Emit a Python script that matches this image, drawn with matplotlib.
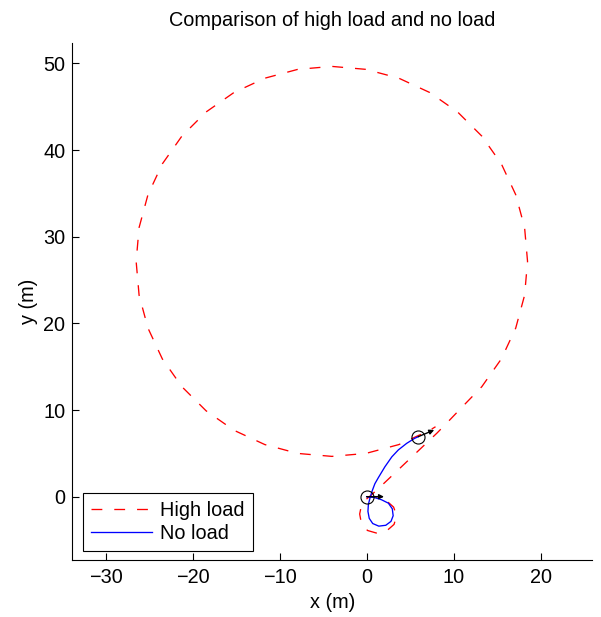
import numpy as np
import matplotlib
matplotlib.use("Agg")
import matplotlib.pyplot as plt

plt.rcParams['font.family'] = ['Liberation Sans', 'DejaVu Sans']
plt.rcParams['lines.scale_dashes'] = False

# high load trajectory (m): small loop, straight run, then the big circle
high_x = [0.0, 1.0, 2.2, 3.1, 3.45, 3.15, 2.3, 1.2, 0.1, -0.6, -0.8, -0.6, -0.1,
          0.6, 2.0, 4.0, 6.0, 8.1, 9.6, 11.06,
          13.24, 15.49, 17.14, 18.16, 18.5, 18.16, 17.14, 15.49, 13.24, 10.46,
          7.25, 3.70, -0.09, -4.0, -7.91, -11.70, -15.25, -18.46, -21.24, -23.49,
          -25.14, -26.16, -26.5, -26.16, -25.14, -23.49, -21.24, -18.46, -15.25,
          -11.70, -7.91, -4.0, -0.09, 3.70, 7.25, 7.92]
high_y = [0.0, 0.0, -0.4, -1.2, -2.2, -3.2, -3.95, -4.22, -3.9, -3.1, -2.0, -1.0, -0.35,
          0.25, 1.55, 3.45, 5.35, 7.35, 8.9, 10.43,
          12.69, 15.90, 19.45, 23.24, 27.15, 31.06, 34.85, 38.40, 41.61, 44.39,
          46.64, 48.29, 49.31, 49.65, 49.31, 48.29, 46.64, 44.39, 41.61, 38.40,
          34.85, 31.06, 27.15, 23.24, 19.45, 15.90, 12.69, 9.91, 7.66,
          6.01, 4.99, 4.65, 4.99, 6.01, 7.66, 8.07]

# no load trajectory (m)
no_x = [0.0, 0.9, 1.7, 2.5, 2.95, 3.05, 2.8, 2.2, 1.4, 0.7, 0.3, 0.15, 0.2, 0.4,
        0.65, 0.95, 1.35, 2.1, 2.9, 3.65, 4.6, 5.5, 5.93]
no_y = [0.0, -0.1, -0.35, -0.75, -1.4, -2.2, -2.85, -3.3, -3.4, -3.1, -2.5, -1.7,
        -0.9, -0.1, 0.7, 1.5, 2.2, 3.45, 4.6, 5.4, 6.15, 6.72, 6.92]

# start / end poses with heading arrows
pose_x = [0.0, 5.93]
pose_y = [0.0, 6.92]
arrow_dx = [2.0, 1.84]
arrow_dy = [0.0, 0.78]

fs = 14.3

fig = plt.figure(figsize=(6.01, 6.17), dpi=100)
ax = fig.add_axes([0.1203, 0.0929, 0.865, 0.8374])

ax.plot(high_x, high_y, color='red', lw=0.95, dashes=(7.8, 8.6), label='High load')
ax.plot(no_x, no_y, color='blue', lw=0.95, label='No load')
ax.plot(pose_x, pose_y, 'o', mfc='none', mec='k', ms=9.4, mew=0.8)
for x, y, dx, dy in zip(pose_x, pose_y, arrow_dx, arrow_dy):
    ax.annotate('', xy=(x + dx, y + dy), xytext=(x, y),
                arrowprops=dict(arrowstyle='-|>', color='k', lw=1.0,
                                mutation_scale=7, shrinkA=0, shrinkB=0))

ax.set_xlim(-33.84, 25.93)
ax.set_ylim(-7.27, 52.35)
ax.set_xticks([-30, -20, -10, 0, 10, 20])
ax.set_yticks([0, 10, 20, 30, 40, 50])
ax.spines['top'].set_visible(False)
ax.spines['right'].set_visible(False)
for s in ('left', 'bottom'):
    ax.spines[s].set_linewidth(0.8)
ax.tick_params(direction='in', length=5, width=0.8, labelsize=fs)
ax.tick_params(axis='x', pad=6)
ax.tick_params(axis='y', pad=5)

ax.set_title('Comparison of high load and no load', fontsize=fs, pad=12)
ax.set_xlabel('x (m)', fontsize=fs, labelpad=4)
ax.set_ylabel('y (m)', fontsize=fs, labelpad=4)

leg = ax.legend(loc='lower left', bbox_to_anchor=(0.02, 0.0174), borderaxespad=0,
                fontsize=fs, fancybox=False, framealpha=1, edgecolor='k',
                handlelength=3.1, handletextpad=0.4, borderpad=0.4,
                labelspacing=0.2)
leg.get_frame().set_linewidth(0.8)

fig.savefig('out.png', dpi=100)
